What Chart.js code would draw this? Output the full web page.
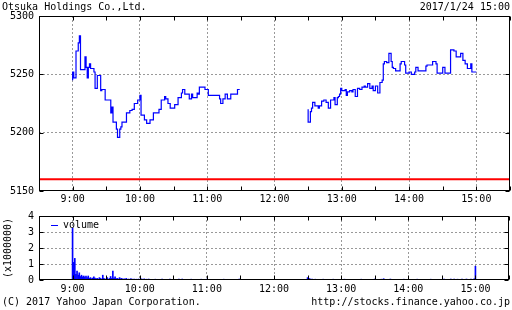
<!DOCTYPE html>
<html>
<head>
<meta charset="utf-8">
<script src="https://cdn.jsdelivr.net/npm/chart.js@4.4.0/dist/chart.umd.min.js"></script>
<style>
  body { margin: 0; background: #fff; width: 512px; height: 310px; overflow: hidden; position: relative;
         font: 10px "DejaVu Sans Mono", monospace; color: #000; }
  .t { position: absolute; white-space: pre; line-height: 12px; }
  #price-chart { position: absolute; left: 0; top: 0; }
  #volume-chart { position: absolute; left: 0; top: 205px; }
</style>
</head>
<body>
<canvas id="price-chart" width="512" height="210"></canvas>
<canvas id="volume-chart" width="512" height="105"></canvas>
<div class="t" style="left:2px;top:1px">Otsuka Holdings Co.,Ltd.</div>
<div class="t" style="right:2px;top:1px">2017/1/24 15:00</div>
<div class="t" style="left:51px;top:219px"><span style="display:inline-block;width:7px;height:1px;background:#00f;vertical-align:middle;margin-right:5px"></span>volume</div>
<div class="t" style="left:2px;top:296px">(C) 2017 Yahoo Japan Corporation.</div>
<div class="t" style="right:2px;top:296px">http://stocks.finance.yahoo.co.jp</div>
<script>
// morning session prices
var amTimes = ["9:00","9:01","9:03","9:05","9:06","9:07","9:11","9:12","9:13","9:14","9:15","9:16","9:19","9:20",
  "9:22","9:25","9:26","9:29","9:34","9:35","9:36","9:39","9:40","9:42","9:43","9:44","9:46","9:48","9:51","9:53",
  "9:55","9:58","10:00","10:01","10:04","10:06","10:09","10:12","10:14","10:17","10:19","10:22","10:23","10:25",
  "10:27","10:31","10:34","10:37","10:38","10:40","10:42","10:44","10:46","10:47","10:51","10:52","10:53","10:58",
  "11:01","11:03","11:11","11:12","11:14","11:16","11:18","11:21","11:22","11:27","11:29"];
var amPrices = [5245,5252,5247,5270,5277,5283,5254,5265,5256,5247,5256,5259,5255,5252,
  5238,5249,5236,5237,5228,5217,5222,5209,5203,5196,5203,5205,5209,5209,5217,5219,
  5220,5225,5228,5232,5215,5211,5208,5211,5217,5217,5220,5228,5231,5229,
  5225,5221,5224,5230,5234,5237,5233,5233,5229,5233,5230,5234,5233,5239,
  5237,5232,5232,5229,5225,5229,5233,5229,5233,5233,5237];

// afternoon session prices
var pmTimes = ["12:30","12:32","12:33","12:34","12:36","12:39","12:40","12:42","12:44","12:46","12:48","12:50",
  "12:53","12:54","12:56","12:57","12:58","12:59","13:00","13:03","13:04","13:05","13:07","13:09","13:10","13:12",
  "13:14","13:16","13:18","13:20","13:21","13:23","13:25","13:27","13:28","13:30","13:32","13:34","13:36","13:37",
  "13:38","13:40","13:42","13:44","13:45","13:46","13:48","13:52","13:53","13:56","13:57","14:00","14:02","14:05",
  "14:06","14:08","14:15","14:16","14:21","14:24","14:25","14:30","14:32","14:37","14:40","14:42","14:46","14:48",
  "14:50","14:52","14:55","14:56","14:59","15:00"];
var pmPrices = [5220,5209,5218,5221,5226,5223,5221,5223,5227,5228,5226,5221,
  5228,5230,5224,5230,5231,5233,5238,5236,5237,5232,5235,5236,5235,5237,
  5231,5238,5237,5239,5240,5239,5242,5238,5240,5236,5240,5234,5243,5245,
  5259,5261,5260,5268,5261,5256,5255,5253,5259,5261,5258,5251,5252,5250,
  5252,5256,5253,5257,5258,5261,5259,5251,5256,5251,5271,5270,5265,5268,
  5262,5259,5255,5259,5252,5252];

var prevClose = 5160;

// volume, millions of shares
var volTimes = ["9:00","9:01","9:02","9:03","9:04","9:05","9:06","9:07","9:08","9:09","9:10","9:11","9:12","9:13",
  "9:14","9:15","9:16","9:17","9:18","9:19","9:20","9:21","9:22","9:23","9:24","9:25","9:26","9:27","9:28","9:30",
  "9:31","9:33","9:34","9:35","9:36","9:37","9:38","9:39","9:40","9:41","9:42","9:43","9:44","9:46","9:47","9:48",
  "9:50","9:52","9:53","9:55","9:57","9:59","10:01","10:02","10:04","10:06","10:08","10:11","10:14","10:17","10:20",
  "10:24","10:27","10:31","10:35","10:38","10:42","10:46","10:50","10:55","11:00","11:05","11:10","11:15","11:20",
  "11:25","11:29",
  "12:30","12:31","12:32","12:34","12:37","12:40","12:44","12:48","12:53","12:58","13:03","13:08","13:13","13:18",
  "13:24","13:30","13:36","13:38","13:44","13:50","13:56","14:02","14:08","14:14","14:20","14:26","14:32","14:38",
  "14:41","14:44","14:48","14:52","14:56","14:59","15:00"];
var volValues = [3.25,1.10,1.35,0.35,0.55,0.30,0.45,0.22,0.30,0.20,0.25,0.18,0.25,0.15,
  0.25,0.10,0.15,0.08,0.12,0.20,0.12,0.08,0.10,0.06,0.15,0.10,0.06,0.30,0.10,0.08,
  0.15,0.10,0.22,0.10,0.55,0.12,0.20,0.08,0.10,0.06,0.15,0.08,0.10,0.08,0.06,0.10,
  0.06,0.08,0.05,0.06,0.05,0.06,0.08,0.06,0.07,0.05,0.06,0.04,0.05,0.04,0.06,
  0.04,0.05,0.04,0.05,0.06,0.04,0.05,0.04,0.05,0.05,0.04,0.04,0.05,0.04,
  0.04,0.06,
  0.15,0.10,0.08,0.06,0.05,0.04,0.05,0.04,0.05,0.04,0.05,0.04,0.04,0.05,
  0.04,0.06,0.05,0.08,0.06,0.04,0.05,0.04,0.05,0.04,0.05,0.04,0.05,0.06,
  0.06,0.05,0.05,0.06,0.05,0.08,0.86];

function toMin(s) {
  var p = s.split(":");
  return Number(p[0]) * 60 + Number(p[1]);
}
function pts(times, vals) {
  return times.map(function (t, i) { return { x: toMin(t), y: vals[i] }; });
}

var FONT = { family: "'DejaVu Sans Mono', monospace", size: 10 };
var X_MIN = 8 * 60 + 30, X_MAX = 15 * 60 + 30;

// frame + inward tick marks
var frame = {
  id: "frame",
  afterDatasetsDraw: function (chart) {
    var a = chart.chartArea, c = chart.ctx, sx = chart.scales.x, sy = chart.scales.y;
    var l = Math.round(a.left) + 0.5, r = Math.round(a.right) - 0.5;
    var t = Math.round(a.top) + 0.5, b = Math.round(a.bottom) - 0.5;
    c.save();
    c.strokeStyle = "#000";
    c.lineWidth = 1;
    c.beginPath();
    sx.ticks.forEach(function (tk) {
      var px = Math.round(sx.getPixelForValue(tk.value)) + 0.5;
      c.moveTo(px, t); c.lineTo(px, t + 4);
      c.moveTo(px, b); c.lineTo(px, b - 4);
    });
    sy.ticks.forEach(function (tk) {
      var py = Math.round(sy.getPixelForValue(tk.value)) + 0.5;
      c.moveTo(l, py); c.lineTo(l + 4, py);
      c.moveTo(r, py); c.lineTo(r - 4, py);
    });
    c.stroke();
    c.strokeRect(l, t, r - l, b - t);
    c.restore();
  }
};

function xScale(pad, h) {
  return {
    type: "linear", min: X_MIN, max: X_MAX, offset: false,
    ticks: {
      stepSize: 30, autoSkip: false, maxRotation: 0, color: "#000", font: FONT, padding: pad,
      callback: function (v) { return v % 60 === 0 ? Math.floor(v / 60) + ":00" : ""; }
    },
    grid: {
      drawTicks: false, offset: false, lineWidth: 1,
      color: function (ctx) {
        var v = ctx.tick && ctx.tick.value;
        return (v % 60 === 0 && v > X_MIN && v < X_MAX) ? "#999" : "rgba(0,0,0,0)";
      }
    },
    border: { display: false, dash: [2, 2] },
    afterFit: function (s) { s.height = h; }
  };
}

function plain(v) { return String(v); }

new Chart(document.getElementById("price-chart"), {
  type: "line",
  data: {
    datasets: [
      { data: pts(amTimes, amPrices), borderColor: "#0000ff", borderWidth: 1.2, stepped: "after", pointRadius: 0 },
      { data: pts(pmTimes, pmPrices), borderColor: "#0000ff", borderWidth: 1.2, stepped: "after", pointRadius: 0 },
      { data: [{ x: X_MIN, y: prevClose }, { x: X_MAX, y: prevClose }], borderColor: "#ff0000", borderWidth: 2, pointRadius: 0 }
    ]
  },
  options: {
    responsive: false, animation: false,
    layout: { padding: { top: 16, right: 1, left: 0, bottom: 0 } },
    plugins: { legend: { display: false }, tooltip: { enabled: false } },
    scales: {
      x: xScale(2, 19),
      y: {
        min: 5150, max: 5300,
        ticks: { stepSize: 50, color: "#000", font: FONT, padding: 5, callback: plain },
        grid: {
          drawTicks: false, lineWidth: 1,
          color: function (ctx) {
            var v = ctx.tick && ctx.tick.value;
            return (v > 5150 && v < 5300) ? "#999" : "rgba(0,0,0,0)";
          }
        },
        border: { display: false, dash: [2, 2] },
        afterFit: function (s) { s.width = 39; }
      }
    }
  },
  plugins: [frame]
});

new Chart(document.getElementById("volume-chart"), {
  type: "bar",
  data: {
    datasets: [
      { data: pts(volTimes, volValues), backgroundColor: "#0000ff", barThickness: 1, categoryPercentage: 1, barPercentage: 1 }
    ]
  },
  options: {
    responsive: false, animation: false,
    layout: { padding: { top: 10, right: 1, left: 0, bottom: 0 } },
    plugins: { legend: { display: false }, tooltip: { enabled: false } },
    scales: {
      x: xScale(3, 30),
      y: {
        min: 0, max: 4,
        ticks: { stepSize: 1, color: "#000", font: FONT, padding: 5, callback: plain },
        title: { display: true, text: "(x1000000)", color: "#000", font: FONT, padding: { top: 2, bottom: 0 } },
        grid: {
          drawTicks: false, lineWidth: 1,
          color: function (ctx) {
            var v = ctx.tick && ctx.tick.value;
            return (v > 0 && v < 4) ? "#999" : "rgba(0,0,0,0)";
          }
        },
        border: { display: false, dash: [2, 2] },
        afterFit: function (s) { s.width = 39; }
      }
    }
  },
  plugins: [frame]
});
</script>
</body>
</html>
